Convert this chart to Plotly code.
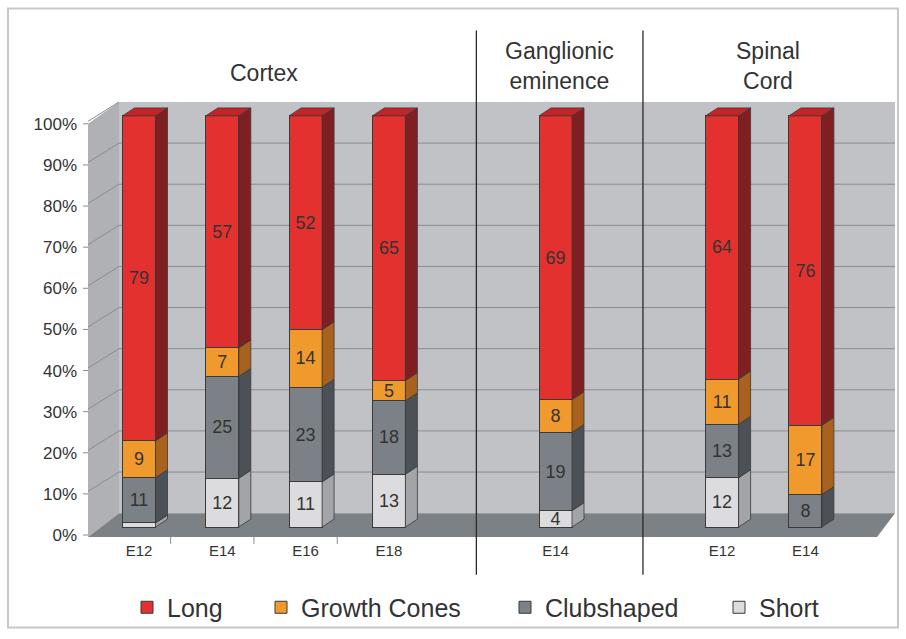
import plotly.graph_objects as go

# ---------------- data ----------------
group_names = ["Cortex", "Ganglionic<br>eminence", "Spinal<br>Cord"]
stages = ["E12", "E14", "E16", "E18", "E14", "E12", "E14"]
stage_group = [0, 0, 0, 0, 1, 2, 2]

short = [1, 12, 11, 13, 4, 12, 0]
clubshaped = [11, 25, 23, 18, 19, 13, 8]
growth_cones = [9, 7, 14, 5, 8, 11, 17]
long_ = [79, 57, 52, 65, 69, 64, 76]

y_ticks = [0, 10, 20, 30, 40, 50, 60, 70, 80, 90, 100]
y_tick_text = [f"{v}%" for v in y_ticks]

# ---------------- layout geometry (pixels) ----------------
W, H = 906, 639
PX_L, PX_R, PX_T, PX_B = 88, 898, 95, 540
X0PX, XSTEP = 139, 83.3
Y0PX, YSTEP = 530, 4.14
DEPTH_X, DEPTH_Y = 12, 8


def dx(px):
    return (px - X0PX) / XSTEP


def dy(py):
    return (Y0PX - py) / YSTEP


def paperx(px):
    return (px - PX_L) / (PX_R - PX_L)


def papery(py):
    return (PX_B - py) / (PX_B - PX_T)


# slots: one empty slot between groups
slots = [i + g for i, g in enumerate(stage_group)]
BAR_W = 33 / XSTEP
DX = DEPTH_X / XSTEP
DY = DEPTH_Y / YSTEP

series = [
    ("Short", short, "#dcdcde", "#a2a4a8", "#c8c8ca"),
    ("Clubshaped", clubshaped, "#7b8187", "#4b5156", "#686e74"),
    ("Growth Cones", growth_cones, "#f09a2e", "#a8621e", "#d88628"),
    ("Long", long_, "#e2312f", "#7f1f22", "#c42426"),
]
EDGE = "#3a3a3a"
FONT = "Liberation Sans, Arial, sans-serif"
TXT = "#333333"

fig = go.Figure()

totals = [sum(s[1][i] for s in series) for i in range(len(stages))]
legend_ids = {"Long": "legend", "Growth Cones": "legend2", "Clubshaped": "legend3", "Short": "legend4"}

for name, vals, front, side, top in series:
    labels = [str(v) if v >= 2 else "" for v in vals]
    fig.add_trace(go.Bar(
        x=slots, y=vals, name=name, width=BAR_W,
        marker=dict(color=front, line=dict(color=EDGE, width=1)),
        text=labels, textposition="inside", insidetextanchor="middle",
        constraintext="none", textangle=0,
        textfont=dict(family=FONT, size=18, color=TXT),
        legend=legend_ids[name], hoverinfo="skip",
    ))

# 3D sides and tops computed from normalised stacks
cum = [0.0] * len(stages)
for k, (name, vals, front, side, top) in enumerate(series):
    xs, ys = [], []
    for i, v in enumerate(vals):
        b = cum[i]
        t = b + 100.0 * v / totals[i]
        cum[i] = t
        if v <= 0:
            continue
        xr = slots[i] + BAR_W / 2
        xs += [xr, xr + DX, xr + DX, xr, xr, None]
        ys += [b, b + DY, t + DY, t, b, None]
    fig.add_trace(go.Scatter(x=xs, y=ys, mode="lines", fill="toself", fillcolor=side,
                             line=dict(color=EDGE, width=0.8), showlegend=False, hoverinfo="skip"))

# tops of the stacks (topmost series)
top_color = series[-1][4]
xs, ys = [], []
for i in range(len(stages)):
    xl = slots[i] - BAR_W / 2
    xr = slots[i] + BAR_W / 2
    t = cum[i]
    xs += [xl, xr, xr + DX, xl + DX, xl, None]
    ys += [t, t, t + DY, t + DY, t, None]
fig.add_trace(go.Scatter(x=xs, y=ys, mode="lines", fill="toself", fillcolor=top_color,
                         line=dict(color=EDGE, width=0.8), showlegend=False, hoverinfo="skip"))

# ---------------- walls / floor ----------------
shapes = []


def poly(points, fill, line_color=None, lw=0):
    path = "M " + " L ".join(f"{dx(px):.4f},{dy(py):.4f}" for px, py in points) + " Z"
    return dict(type="path", path=path, xref="x", yref="y", fillcolor=fill,
                line=dict(color=line_color or fill, width=lw), layer="below")


BACK_L, BACK_R, BACK_T, BACK_B = 119, 895, 102, 516
FRONT_L, FRONT_R, FRONT_B = 88, 877, 540
shapes.append(poly([(BACK_L, BACK_T), (BACK_R, BACK_T), (BACK_R, BACK_B), (BACK_L, BACK_B)], "#c0c2c6"))
shapes.append(poly([(FRONT_L, FRONT_B), (BACK_L, BACK_B), (BACK_L, BACK_T), (FRONT_L, 124)], "#afb1b5"))
shapes.append(poly([(FRONT_L, FRONT_B), (FRONT_R, FRONT_B), (BACK_R, BACK_B), (BACK_L, BACK_B)], "#7c8186"))

off_back = (DEPTH_Y + 6) / YSTEP
off_front = 8 / YSTEP
for v in y_ticks:
    if 0 < v < 100:
        shapes.append(dict(type="line", xref="x", yref="y", x0=dx(BACK_L), x1=dx(BACK_R),
                           y0=v + off_back, y1=v + off_back, line=dict(color="#8a8c90", width=1), layer="below"))
    if v > 0:
        shapes.append(dict(type="line", xref="x", yref="y", x0=dx(84), x1=dx(BACK_L),
                           y0=v - off_front, y1=v + off_back, line=dict(color="#8a8c90", width=1), layer="below"))
# small tick marks on left (drawn in paper space so they are not clipped)
for v in y_ticks:
    py = Y0PX - v * YSTEP + 8
    shapes.append(dict(type="line", xref="paper", yref="paper", x0=paperx(83), x1=paperx(88),
                       y0=papery(py), y1=papery(py), line=dict(color="#8a8c90", width=1)))

# category ticks under the floor, between neighbouring bars of the first group
for i in range(len(stages) - 1):
    if stage_group[i] != stage_group[i + 1] or stage_group[i] != 0:
        continue
    xp = (slots[i] + slots[i + 1]) / 2 - 10 / XSTEP
    shapes.append(dict(type="line", xref="paper", yref="paper",
                       x0=paperx(X0PX + xp * XSTEP), x1=paperx(X0PX + xp * XSTEP),
                       y0=papery(540), y1=papery(547), line=dict(color="#8a8c90", width=1)))

# group separators
n_groups = len(group_names)
for g in range(1, n_groups):
    first = slots[stage_group.index(g)]
    xsep = first - 1 + 0.05
    xp = paperx(X0PX + xsep * XSTEP)
    shapes.append(dict(type="line", xref="paper", yref="paper", x0=xp, x1=xp,
                       y0=papery(578), y1=papery(30), line=dict(color="#2a2a2a", width=1.3)))

# outer frame
shapes.append(dict(type="rect", xref="paper", yref="paper",
                   x0=paperx(8), x1=paperx(898), y0=papery(631), y1=papery(8),
                   line=dict(color="#c8c8c8", width=2), layer="below"))

# group titles
annotations = []
for g, gname in enumerate(group_names):
    gs = [slots[i] for i in range(len(stages)) if stage_group[i] == g]
    xc = sum(gs) / len(gs)
    annotations.append(dict(x=xc + (0.05 if g else 0), y=papery(66 if "<br>" in gname else 73),
                            xref="x", yref="paper", text=gname, showarrow=False,
                            font=dict(family=FONT, size=23, color=TXT), align="center",
                            xanchor="center", yanchor="middle"))

legend_px = {"legend": 143, "legend2": 277, "legend3": 521, "legend4": 735}
legend_layout = {}
for key, px in legend_px.items():
    legend_layout[key] = dict(x=paperx(px - 16), y=papery(611), xanchor="left", yanchor="middle",
                              orientation="h", bgcolor="rgba(0,0,0,0)",
                              font=dict(family=FONT, size=25, color=TXT), itemclick=False)

fig.update_layout(
    width=W, height=H,
    margin=dict(l=PX_L, r=W - PX_R, t=PX_T, b=H - PX_B, pad=0),
    paper_bgcolor="white", plot_bgcolor="rgba(0,0,0,0)",
    barmode="stack", barnorm="percent",
    shapes=shapes, annotations=annotations,
    showlegend=True,
    font=dict(family=FONT, color=TXT),
    xaxis=dict(range=[dx(PX_L), dx(PX_R)], tickvals=slots, ticktext=stages,
               showgrid=False, zeroline=False, showline=False, ticks="",
               ticklabelstandoff=3,
               tickfont=dict(family=FONT, size=15, color=TXT)),
    yaxis=dict(range=[dy(PX_B), dy(PX_T)], tickvals=y_ticks, ticktext=y_tick_text,
               showgrid=False, zeroline=False, showline=False, ticks="",
               ticklabelshift=8, ticklabelstandoff=10,
               tickfont=dict(family=FONT, size=17, color=TXT)),
    **legend_layout,
)

fig.write_html("out.html")
